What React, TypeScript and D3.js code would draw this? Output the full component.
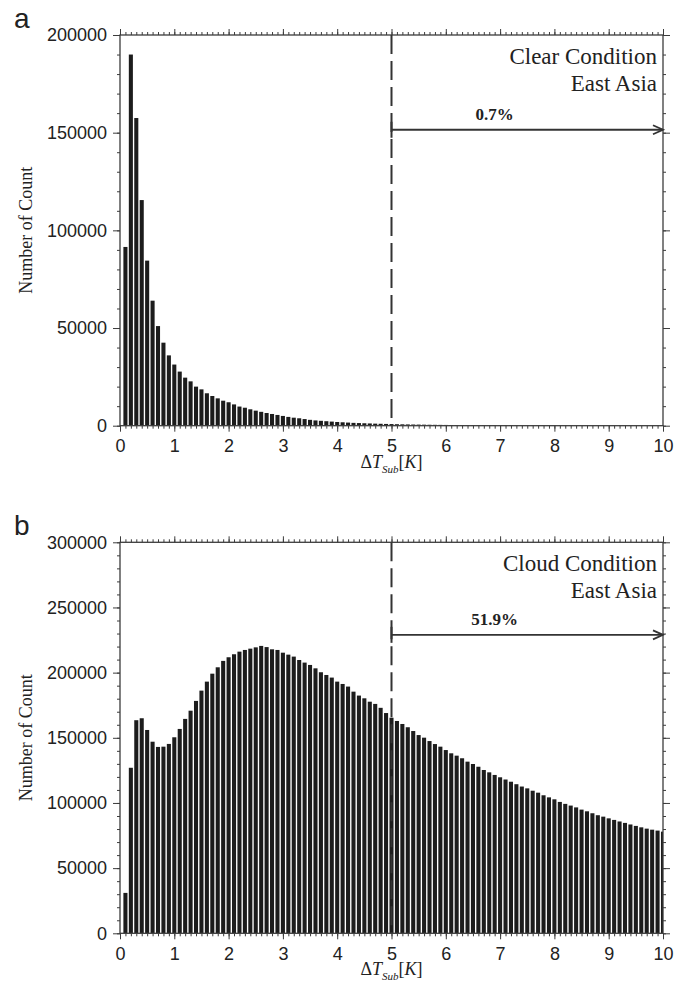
import { useEffect, useRef } from "react";
import * as d3 from "d3";

// bin centres run 0.1 .. 10.0 (step 0.1)
const binCenters: number[] = [
  0.1, 0.2, 0.3, 0.4, 0.5, 0.6, 0.7, 0.8, 0.9, 1.0,
  1.1, 1.2, 1.3, 1.4, 1.5, 1.6, 1.7, 1.8, 1.9, 2.0,
  2.1, 2.2, 2.3, 2.4, 2.5, 2.6, 2.7, 2.8, 2.9, 3.0,
  3.1, 3.2, 3.3, 3.4, 3.5, 3.6, 3.7, 3.8, 3.9, 4.0,
  4.1, 4.2, 4.3, 4.4, 4.5, 4.6, 4.7, 4.8, 4.9, 5.0,
  5.1, 5.2, 5.3, 5.4, 5.5, 5.6, 5.7, 5.8, 5.9, 6.0,
  6.1, 6.2, 6.3, 6.4, 6.5, 6.6, 6.7, 6.8, 6.9, 7.0,
  7.1, 7.2, 7.3, 7.4, 7.5, 7.6, 7.7, 7.8, 7.9, 8.0,
  8.1, 8.2, 8.3, 8.4, 8.5, 8.6, 8.7, 8.8, 8.9, 9.0,
  9.1, 9.2, 9.3, 9.4, 9.5, 9.6, 9.7, 9.8, 9.9, 10.0,
];

// panel a: clear condition
const clearCounts: number[] = [
  91500, 190000, 157500, 115500, 84500, 64000, 51000, 42500, 36000, 31300,
  27700, 24600, 22700, 20000, 18600, 16600, 15200, 14000, 12800, 12000,
  10900, 9800, 9200, 8400, 7700, 7100, 6500, 6000, 5500, 5000,
  4500, 4100, 3800, 3400, 3000, 2700, 2500, 2300, 2100, 1900,
  1750, 1600, 1450, 1350, 1250, 1150, 1050, 980, 900, 830,
  760, 700, 650, 600, 560, 520, 480, 450, 420, 390,
  360, 340, 320, 300, 280, 260, 240, 225, 210, 200,
  190, 180, 170, 160, 150, 140, 135, 130, 120, 115,
  110, 105, 100, 95, 90, 85, 80, 78, 75, 72,
  70, 68, 65, 62, 60, 58, 56, 54, 52, 50,
];

// panel b: cloud condition
const cloudCounts: number[] = [
  31000, 127000, 163500, 165000, 156000, 147000, 143000, 143200, 145300, 150400,
  156800, 164500, 170800, 178300, 186200, 193100, 199200, 204100, 209000, 211800,
  214100, 216100, 217400, 218400, 219400, 220500, 219600, 217900, 217400, 215300,
  213800, 212300, 209700, 207700, 205900, 203300, 200300, 198200, 196200, 193100,
  191300, 189300, 185400, 182400, 180300, 177700, 176000, 173000, 169000, 165400,
  162900, 160600, 158100, 155200, 152100, 150100, 147500, 145200, 143200, 140600,
  138100, 136300, 134300, 131700, 129900, 127800, 125300, 123500, 121500, 119700,
  118000, 116300, 114400, 112600, 111200, 109400, 107900, 105900, 104300, 102800,
  100800, 99300, 98000, 96600, 94900, 93600, 92100, 90600, 89500, 88200,
  87000, 85800, 84700, 83500, 82400, 81300, 80300, 79500, 78800, 78000,
];

const xTicks = [0, 1, 2, 3, 4, 5, 6, 7, 8, 9, 10];
const clearYTicks = [0, 50000, 100000, 150000, 200000];
const cloudYTicks = [0, 50000, 100000, 150000, 200000, 250000, 300000];

type PanelOpts = {
  id: string;
  letter: string;
  counts: number[];
  yMax: number;
  yTicks: number[];
  top: number;
  bottom: number;
  title: string;
  pct: string;
  arrowY: number;
};

const LEFT = 120;
const RIGHT = 663;
const AXIS = "#3c3c3c";
const INK = "#222";

function drawPanel(svg: d3.Selection<SVGSVGElement, unknown, null, undefined>, o: PanelOpts) {
  const x = d3.scaleLinear().domain([0, 10]).range([LEFT, RIGHT]);
  const y = d3.scaleLinear().domain([0, o.yMax]).range([o.bottom, o.top]);

  const g = svg.append("g");

  g.append("clipPath")
    .attr("id", `clip-${o.id}`)
    .append("rect")
    .attr("x", LEFT)
    .attr("y", o.top)
    .attr("width", RIGHT - LEFT)
    .attr("height", o.bottom - o.top);

  // bars
  const bw = x(0.075) - x(0);
  g.append("g")
    .attr("clip-path", `url(#clip-${o.id})`)
    .selectAll("rect")
    .data(o.counts)
    .join("rect")
    .attr("x", (_, i) => x(binCenters[i]) - bw / 2)
    .attr("y", (d) => y(d))
    .attr("width", bw)
    .attr("height", (d) => o.bottom - y(d))
    .attr("fill", "#1c1c1c");

  // minor tick positions
  const xMinor = d3.range(0, 101).map((i) => i / 10);
  const yMinor = d3.range(0, o.yMax / 10000 + 1).map((i) => i * 10000);

  const styleAxis = (sel: d3.Selection<SVGGElement, unknown, null, undefined>) => {
    sel.select(".domain").remove();
    sel.selectAll("line").attr("stroke", AXIS).attr("stroke-width", 1);
    sel.selectAll("text")
      .attr("fill", INK)
      .attr("font-family", "Liberation Sans, Arial, sans-serif")
      .attr("font-size", 18);
  };

  // bottom
  g.append("g").attr("transform", `translate(0,${o.bottom})`)
    .call(d3.axisBottom(x).tickValues(xMinor).tickSize(3).tickFormat(() => ""))
    .call(styleAxis);
  g.append("g").attr("transform", `translate(0,${o.bottom})`)
    .call(d3.axisBottom(x).tickValues(xTicks).tickSize(6).tickPadding(8).tickFormat(d3.format("d")))
    .call(styleAxis);
  // top
  g.append("g").attr("transform", `translate(0,${o.top})`)
    .call(d3.axisTop(x).tickValues(xMinor).tickSize(3).tickFormat(() => ""))
    .call(styleAxis);
  g.append("g").attr("transform", `translate(0,${o.top})`)
    .call(d3.axisTop(x).tickValues(xTicks).tickSize(6).tickFormat(() => ""))
    .call(styleAxis);
  // left
  g.append("g").attr("transform", `translate(${LEFT},0)`)
    .call(d3.axisLeft(y).tickValues(yMinor).tickSize(3).tickFormat(() => ""))
    .call(styleAxis);
  g.append("g").attr("transform", `translate(${LEFT},0)`)
    .call(d3.axisLeft(y).tickValues(o.yTicks).tickSize(7).tickPadding(6).tickFormat(d3.format("d")))
    .call(styleAxis);
  // right
  g.append("g").attr("transform", `translate(${RIGHT},0)`)
    .call(d3.axisRight(y).tickValues(yMinor).tickSize(3).tickFormat(() => ""))
    .call(styleAxis);
  g.append("g").attr("transform", `translate(${RIGHT},0)`)
    .call(d3.axisRight(y).tickValues(o.yTicks).tickSize(7).tickFormat(() => ""))
    .call(styleAxis);

  // frame
  g.append("rect")
    .attr("x", LEFT)
    .attr("y", o.top)
    .attr("width", RIGHT - LEFT)
    .attr("height", o.bottom - o.top)
    .attr("fill", "none")
    .attr("stroke", AXIS)
    .attr("stroke-width", 1.3);

  // dashed threshold at 5 K
  g.append("line")
    .attr("x1", x(5)).attr("x2", x(5))
    .attr("y1", o.top).attr("y2", o.bottom)
    .attr("stroke", "#333")
    .attr("stroke-width", 2)
    .attr("stroke-dasharray", "19,7");

  // arrow 5 -> 10
  const ay = y(o.arrowY);
  g.append("line")
    .attr("x1", x(5)).attr("x2", x(10))
    .attr("y1", ay).attr("y2", ay)
    .attr("stroke", "#333").attr("stroke-width", 1.8);
  g.append("line")
    .attr("x1", x(5)).attr("x2", x(5))
    .attr("y1", ay - 8).attr("y2", ay + 8)
    .attr("stroke", "#333").attr("stroke-width", 2);
  g.append("path")
    .attr("d", `M${x(10) - 10},${ay - 4.5}L${x(10)},${ay}L${x(10) - 10},${ay + 4.5}`)
    .attr("fill", "none")
    .attr("stroke", "#333")
    .attr("stroke-width", 1.8);

  g.append("text")
    .attr("x", x(6.9))
    .attr("y", ay - 10)
    .attr("text-anchor", "middle")
    .attr("font-family", "Liberation Serif, Times New Roman, serif")
    .attr("font-weight", "bold")
    .attr("font-size", 17)
    .attr("fill", INK)
    .text(o.pct);

  // title block
  const tt = g.append("text")
    .attr("text-anchor", "end")
    .attr("font-family", "Liberation Serif, Times New Roman, serif")
    .attr("font-size", 23)
    .attr("fill", INK);
  tt.append("tspan").attr("x", RIGHT - 6).attr("y", o.top + 29).text(o.title);
  tt.append("tspan").attr("x", RIGHT - 6).attr("y", o.top + 56).text("East Asia");

  // panel letter
  g.append("text")
    .attr("x", 14)
    .attr("y", o.top - 7)
    .attr("font-family", "Liberation Sans, Arial, sans-serif")
    .attr("font-size", 28)
    .attr("fill", INK)
    .text(o.letter);

  // y label
  g.append("text")
    .attr("transform", `translate(32,${(o.top + o.bottom) / 2}) rotate(-90)`)
    .attr("text-anchor", "middle")
    .attr("font-family", "Liberation Serif, Times New Roman, serif")
    .attr("font-size", 18)
    .attr("fill", INK)
    .text("Number of Count");

  // x label: ΔT_Sub[K]
  const xl = g.append("text")
    .attr("x", (LEFT + RIGHT) / 2)
    .attr("y", o.bottom + 42)
    .attr("text-anchor", "middle")
    .attr("font-family", "Liberation Serif, Times New Roman, serif")
    .attr("font-size", 18)
    .attr("fill", INK);
  xl.append("tspan").text("Δ");
  xl.append("tspan").attr("font-style", "italic").text("T");
  xl.append("tspan").attr("font-style", "italic").attr("font-size", 11).attr("dy", 5).text("Sub");
  xl.append("tspan").attr("dy", -5).text("[");
  xl.append("tspan").attr("font-style", "italic").text("K");
  xl.append("tspan").text("]");
}

export default function App() {
  const ref = useRef<SVGSVGElement | null>(null);

  useEffect(() => {
    document.body.style.margin = "0";
    if (!ref.current) return;
    const svg = d3.select(ref.current);
    svg.selectAll("*").remove();

    drawPanel(svg, {
      id: "a",
      letter: "a",
      counts: clearCounts,
      yMax: 200000,
      yTicks: clearYTicks,
      top: 35,
      bottom: 425.7,
      title: "Clear Condition",
      pct: "0.7%",
      arrowY: 151500,
    });
    drawPanel(svg, {
      id: "b",
      letter: "b",
      counts: cloudCounts,
      yMax: 300000,
      yTicks: cloudYTicks,
      top: 542.3,
      bottom: 933.3,
      title: "Cloud Condition",
      pct: "51.9%",
      arrowY: 229000,
    });
  }, []);

  return (
    <svg
      ref={ref}
      width={688}
      height={992}
      style={{ display: "block", background: "#fff" }}
    />
  );
}
